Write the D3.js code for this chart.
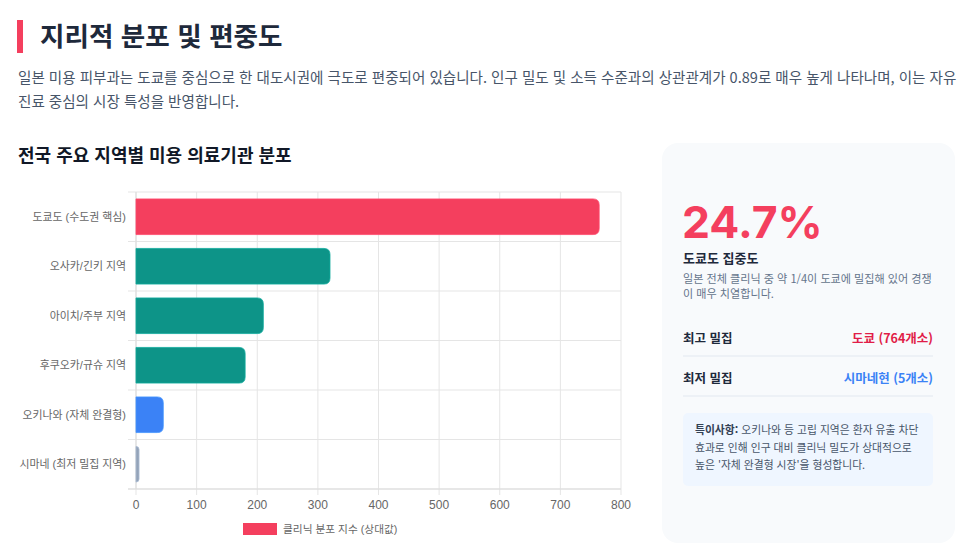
<!DOCTYPE html>
<html lang="ko">
<head>
<meta charset="utf-8">
<script src="https://cdn.jsdelivr.net/npm/d3@7"></script>
<style>
  html, body { margin: 0; padding: 0; background: #fff; }
  svg { display: block; font-family: "Noto Sans CJK KR", "Noto Sans", sans-serif; }
</style>
</head>
<body>
<div id="chart"></div>
<script>
'use strict';

// chart data
var regions = ['도쿄도 (수도권 핵심)', '오사카/긴키 지역', '아이치/주부 지역', '후쿠오카/규슈 지역', '오키나와 (자체 완결형)', '시마네 (최저 밀집 지역)'];
var clinicIndex = [764, 320, 210, 180, 45, 5];
var barColors = ['#f43f5e', '#0d9488', '#0d9488', '#0d9488', '#3b82f6', '#94a3b8'];
var xTicks = [0, 100, 200, 300, 400, 500, 600, 700, 800];
var legendLabel = '클리닉 분포 지수 (상대값)';

// page texts
var pageTitle = '지리적 분포 및 편중도';
var introLines = [
  '일본 미용 피부과는 도쿄를 중심으로 한 대도시권에 극도로 편중되어 있습니다. 인구 밀도 및 소득 수준과의 상관관계가 0.89로 매우 높게 나타나며, 이는 자유',
  '진료 중심의 시장 특성을 반영합니다.'
];
var chartTitle = '전국 주요 지역별 미용 의료기관 분포';
var statValue = '24.7%';
var statLabel = '도쿄도 집중도';
var statDesc = ['일본 전체 클리닉 중 약 1/4이 도쿄에 밀집해 있어 경쟁', '이 매우 치열합니다.'];
var statRows = [
  { label: '최고 밀집', value: '도쿄 (764개소)', color: '#e11d48' },
  { label: '최저 밀집', value: '시마네현 (5개소)', color: '#3b82f6' }
];
var noteHead = '특이사항:';
var noteLines = [' 오키나와 등 고립 지역은 환자 유출 차단', '효과로 인해 인구 대비 클리닉 밀도가 상대적으로', '높은 \'자체 완결형 시장\'을 형성합니다.'];

var width = 975, height = 560;

var svg = d3.select('#chart').append('svg')
  .attr('width', width)
  .attr('height', height)
  .attr('viewBox', '0 0 ' + width + ' ' + height);

// Heading
svg.append('rect').attr('x', 17).attr('y', 20).attr('width', 6).attr('height', 33).attr('fill', '#f43f5e');
svg.append('text').attr('x', 40).attr('y', 46)
  .attr('font-size', 26.6).attr('font-weight', 700).attr('fill', '#1e293b')
  .text(pageTitle);

svg.selectAll('text.intro').data(introLines).enter().append('text')
  .attr('class', 'intro')
  .attr('x', 18).attr('y', function(d, i) { return 83 + i * 24; })
  .attr('font-size', 14.55).attr('fill', '#475569')
  .text(function(d) { return d; });

svg.append('text').attr('x', 18).attr('y', 162)
  .attr('font-size', 18).attr('font-weight', 700).attr('fill', '#111827')
  .text(chartTitle);

// Bar chart
var plot = { left: 136, right: 621, top: 192, bottom: 489 };
var chartFont = '"Liberation Sans", "Noto Sans CJK KR", sans-serif';

var x = d3.scaleLinear().domain([0, 800]).range([plot.left, plot.right]);
var y = d3.scaleBand().domain(regions).range([plot.top, plot.bottom]).padding(0);

var g = svg.append('g').attr('font-family', chartFont);

// grid
g.selectAll('line.vgrid').data(xTicks).enter().append('line')
  .attr('x1', function(d) { return x(d); }).attr('x2', function(d) { return x(d); })
  .attr('y1', plot.top).attr('y2', plot.bottom + 6)
  .attr('stroke', '#e5e5e5').attr('stroke-width', 1);

var bounds = regions.map(function(r) { return y(r); }).concat([plot.bottom]);
g.selectAll('line.hgrid').data(bounds).enter().append('line')
  .attr('x1', plot.left - 8).attr('x2', plot.right)
  .attr('y1', function(d) { return d; }).attr('y2', function(d) { return d; })
  .attr('stroke', '#e5e5e5').attr('stroke-width', 1);

g.append('line').attr('x1', plot.left).attr('x2', plot.left)
  .attr('y1', plot.top).attr('y2', plot.bottom)
  .attr('stroke', '#dcdcdc');
g.append('line').attr('x1', plot.left - 8).attr('x2', plot.right)
  .attr('y1', plot.bottom).attr('y2', plot.bottom)
  .attr('stroke', '#dcdcdc');

// bars, rounded on the value end only
function barPath(x0, x1, y0, h, r) {
  var w = x1 - x0;
  r = Math.min(r, w, h / 2);
  return 'M' + x0 + ',' + y0 +
    'H' + (x1 - r) +
    'Q' + x1 + ',' + y0 + ' ' + x1 + ',' + (y0 + r) +
    'V' + (y0 + h - r) +
    'Q' + x1 + ',' + (y0 + h) + ' ' + (x1 - r) + ',' + (y0 + h) +
    'H' + x0 + 'Z';
}

var bh = y.bandwidth() * 0.72;
g.selectAll('path.bar').data(clinicIndex).enter().append('path')
  .attr('class', 'bar')
  .attr('d', function(d, i) {
    var y0 = y(regions[i]) + (y.bandwidth() - bh) / 2;
    return barPath(x(0), x(d), y0, bh, 6);
  })
  .attr('fill', function(d, i) { return barColors[i]; })
  .attr('stroke', function(d, i) { return d3.color(barColors[i]).brighter(0.4); })
  .attr('stroke-width', 0.8);

// axis labels
g.selectAll('text.ylab').data(regions).enter().append('text')
  .attr('x', plot.left - 10)
  .attr('y', function(d) { return y(d) + y.bandwidth() / 2; })
  .attr('dy', '0.35em')
  .attr('text-anchor', 'end')
  .attr('font-size', 10.9).attr('fill', '#666')
  .text(function(d) { return d; });

g.selectAll('text.xlab').data(xTicks).enter().append('text')
  .attr('x', function(d) { return x(d); })
  .attr('y', 509)
  .attr('text-anchor', 'middle')
  .attr('font-size', 12).attr('fill', '#666')
  .text(function(d) { return d; });

// legend
g.append('rect').attr('x', 243).attr('y', 523).attr('width', 34).attr('height', 12)
  .attr('fill', '#f43f5e');
g.append('text').attr('x', 283).attr('y', 533)
  .attr('font-size', 10.7).attr('fill', '#666')
  .text(legendLabel);

// Side card
var card = svg.append('g');
card.append('rect').attr('x', 662).attr('y', 143).attr('width', 293).attr('height', 400)
  .attr('rx', 16).attr('fill', '#f8fafc');

card.append('text').attr('x', 682).attr('y', 238)
  .attr('font-family', 'Inter, "Noto Sans", sans-serif')
  .attr('font-size', 44.5).attr('font-weight', 700).attr('fill', '#f43f5e')
  .text(statValue);

card.append('text').attr('x', 683).attr('y', 263)
  .attr('font-size', 13).attr('font-weight', 700).attr('fill', '#1e293b')
  .text(statLabel);

card.selectAll('text.desc').data(statDesc).enter().append('text')
  .attr('x', 683).attr('y', function(d, i) { return 283 + i * 14.5; })
  .attr('font-size', 11.1).attr('fill', '#64748b')
  .text(function(d) { return d; });

statRows.forEach(function(row, i) {
  var cy = 339 + i * 40;
  card.append('text').attr('x', 683).attr('y', cy).attr('dy', '0.35em')
    .attr('font-size', 12.5).attr('font-weight', 700).attr('fill', '#1e293b')
    .text(row.label);
  card.append('text').attr('x', 933).attr('y', cy).attr('dy', '0.35em')
    .attr('text-anchor', 'end')
    .attr('font-size', 12.5).attr('font-weight', 700).attr('fill', row.color)
    .text(row.value);
  card.append('line').attr('x1', 683).attr('x2', 933)
    .attr('y1', cy + 17).attr('y2', cy + 17)
    .attr('stroke', '#e2e8f0').attr('stroke-width', 1);
});

card.append('rect').attr('x', 683).attr('y', 413).attr('width', 250).attr('height', 73)
  .attr('rx', 5).attr('fill', '#eff6ff');

var note = card.selectAll('text.note').data(noteLines).enter().append('text')
  .attr('x', 695).attr('y', function(d, i) { return 434 + i * 17.5; })
  .attr('font-size', 10.8).attr('fill', '#475569');
note.each(function(d, i) {
  var t = d3.select(this);
  if (i === 0) {
    t.append('tspan').attr('font-weight', 700).attr('fill', '#334155').text(noteHead);
  }
  t.append('tspan').text(d);
});
</script>
</body>
</html>
